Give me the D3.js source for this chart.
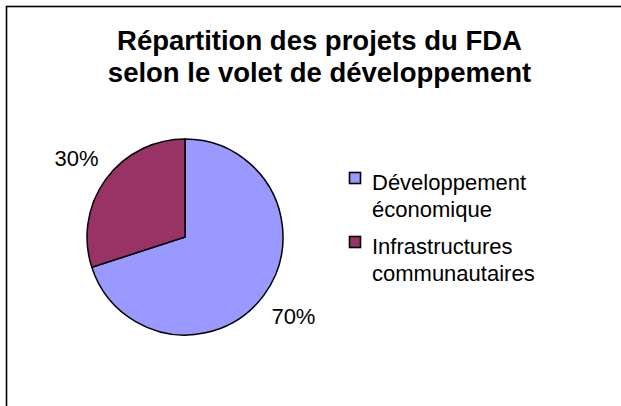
<!DOCTYPE html>
<html>
<head>
<meta charset="utf-8">
<script src="https://cdn.jsdelivr.net/npm/d3@7"></script>
<style>
  body { margin: 0; background: #fff; }
  text { font-family: Arial, "Liberation Sans", sans-serif; fill: #000; }
</style>
</head>
<body>
<div class="chart"></div>
<script>
// DATA
var categories = ['Développement économique', 'Infrastructures communautaires']
var legendLines = [['Développement', 'économique'], ['Infrastructures', 'communautaires']]
var values = [70, 30]
var colors = ['#9999FF', '#993366']
var titleLines = ['Répartition des projets du FDA', 'selon le volet de développement']

var w = 621
var h = 406

var svg = d3.select('.chart').append('svg')
    .attr('width', w)
    .attr('height', h)

// FRAME (runs past the window on the right / bottom)
svg.append('rect')
    .attr('x', 6.5).attr('y', 6.5)
    .attr('width', 700).attr('height', 500)
    .attr('fill', 'white')
    .attr('stroke', 'black')
    .attr('stroke-width', 1.6)

// TITLE
svg.append('g').selectAll('text')
    .data(titleLines)
    .enter().append('text')
    .attr('x', 319.5)
    .attr('y', function(d, i){ return 50 + i * 31.5 })
    .attr('text-anchor', 'middle')
    .style('font-size', '27.5px')
    .style('font-weight', 'bold')
    .text(function(d){ return d })

// PIE
var data = categories.map(function(c, i){ return {name: c, value: values[i], color: colors[i]} })
var total = d3.sum(values)
var pie = d3.pie().sort(null).value(function(d){ return d.value })
var radius = 98
var arc = d3.arc().innerRadius(0).outerRadius(radius)
var labelArc = d3.arc().innerRadius(134).outerRadius(134)

var pieg = svg.append('g').attr('transform', 'translate(185,237)')

pieg.selectAll('path')
    .data(pie(data))
    .enter().append('path')
    .attr('d', arc)
    .attr('fill', function(d){ return d.data.color })
    .attr('stroke', 'black')
    .attr('stroke-width', 1.5)
    .attr('stroke-linejoin', 'round')

pieg.selectAll('text')
    .data(pie(data))
    .enter().append('text')
    .attr('transform', function(d){ return 'translate(' + labelArc.centroid(d) + ')' })
    .attr('text-anchor', 'middle')
    .attr('dy', '0.36em')
    .style('font-size', '22px')
    .text(function(d){ return Math.round(d.data.value / total * 100) + '%' })

// LEGEND
var legend = svg.append('g').attr('transform', 'translate(349,172)')
var item = legend.selectAll('g')
    .data(data)
    .enter().append('g')
    .attr('transform', function(d, i){ return 'translate(0,' + i * 64 + ')' })

item.append('rect')
    .attr('x', 0.5).attr('y', 0.5)
    .attr('width', 11).attr('height', 11)
    .attr('fill', function(d){ return d.color })
    .attr('stroke', 'black')
    .attr('stroke-width', 1.6)

item.append('text')
    .attr('x', 23)
    .attr('y', 18)
    .style('font-size', '22px')
    .selectAll('tspan')
    .data(function(d, i){ return legendLines[i] })
    .enter().append('tspan')
    .attr('x', 23)
    .attr('dy', function(d, i){ return i === 0 ? 0 : 27 })
    .text(function(d){ return d })
</script>
</body>
</html>
